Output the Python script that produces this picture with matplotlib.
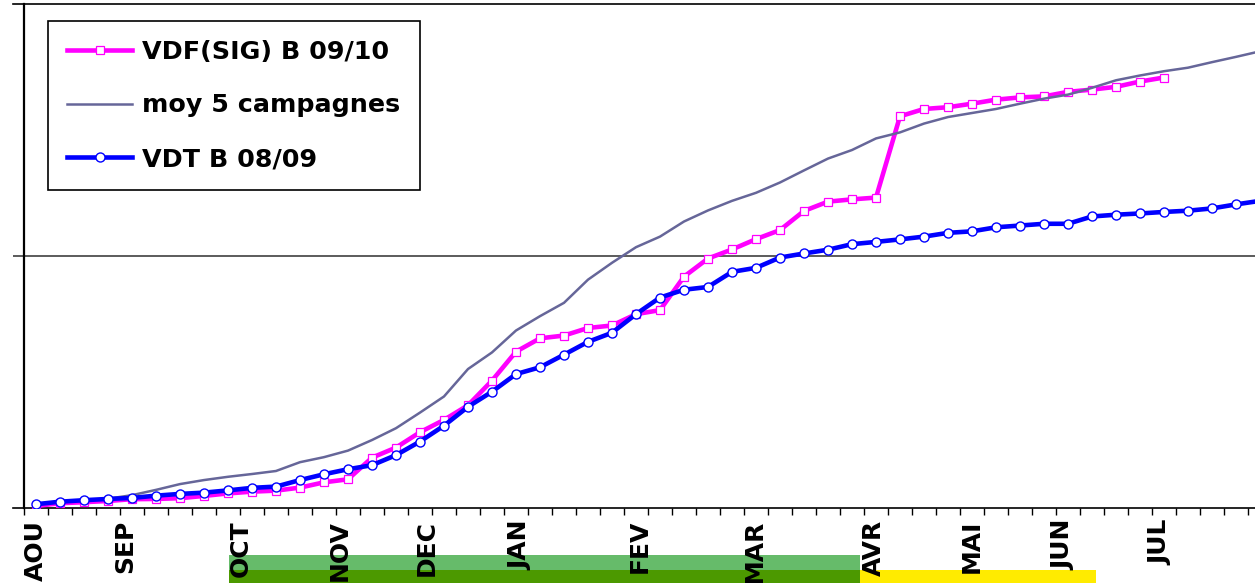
import matplotlib
matplotlib.use("Agg")
import matplotlib.pyplot as plt
from matplotlib.patches import Rectangle
from matplotlib.transforms import blended_transform_factory
import numpy as np

plt.rcParams['font.family'] = ['DejaVu Sans']

# ---- data (weekly categories, Aug -> Jul) ----
vdf_label = "VDF(SIG) B 09/10"
moy_label = "moy 5 campagnes"
vdt_label = "VDT B 08/09"

vdf = [0.6, 1.7, 2.1, 2.6, 3.3, 3.4, 3.7, 4.6, 5.6, 6.3,
       6.7, 7.9, 10.0, 11.2, 19.8, 23.8, 29.9, 34.8, 40.6, 50.4,
       61.9, 67.2, 68.3, 71.3, 72.3, 76.8, 78.4, 91.7, 98.9, 102.5,
       106.6, 110.2, 117.8, 121.5, 122.4, 123.1, 155.4, 158.3, 159.0, 160.4,
       162.0, 162.9, 163.3, 165.1, 166.0, 167.1, 169.2, 170.8]

moy = [1.3, 2.3, 3.0, 3.5, 4.9, 7.0, 9.3, 10.9, 12.2, 13.3,
       14.5, 18.0, 20.0, 22.6, 26.8, 31.5, 37.7, 44.1, 55.0, 61.6,
       70.3, 76.0, 81.3, 90.5, 97.2, 103.4, 107.6, 113.6, 118.0, 121.8,
       125.0, 129.1, 133.9, 138.6, 142.0, 146.6, 149.0, 152.5, 155.1, 156.7,
       158.3, 160.4, 162.4, 164.0, 166.7, 169.7, 171.6, 173.3, 174.7, 176.9,
       179.0, 181.2]

vdt = [1.3, 2.3, 2.9, 3.4, 3.8, 4.7, 5.4, 5.9, 6.8, 7.8,
       8.3, 10.9, 13.2, 15.2, 16.8, 20.8, 26.2, 32.5, 40.0, 46.0,
       53.0, 55.7, 60.7, 65.8, 69.4, 76.8, 83.4, 86.5, 87.6, 93.6,
       95.2, 99.3, 100.9, 102.4, 104.6, 105.5, 106.5, 107.6, 109.1, 109.7,
       111.3, 112.0, 112.7, 112.7, 115.6, 116.3, 116.8, 117.4, 117.9, 118.8,
       120.4, 121.8]

months = ["AOU", "SEP", "OCT", "NOV", "DEC", "JAN", "FEV", "MAR", "AVR", "MAI", "JUN", "JUL"]
month_pos = [0.0, 3.7, 8.55, 12.65, 16.3, 20.2, 25.15, 29.95, 34.9, 39.0, 42.8, 46.85]

# coloured period bands below the axis (start, end in week units)
band_light_green = (8.04, 34.33)
band_dark_green = (8.04, 34.33)
band_yellow = (34.33, 44.17)

n_weeks = 52

# ---- figure ----
W, H = 1255, 583
fig = plt.figure(figsize=(W / 100, H / 100), dpi=100)
ax = fig.add_axes([13 / W, (H - 507.5) / H, (1272 - 13) / W, 503.5 / H])

x_vdf = np.arange(len(vdf))
x_moy = np.arange(len(moy))
x_vdt = np.arange(len(vdt))

ax.plot(x_vdf, vdf, color='#FF00FF', lw=3.3, marker='s', ms=6,
        mfc='white', mec='#FF00FF', mew=0.9, label=vdf_label, zorder=3)
ax.plot(x_moy, moy, color='#666699', lw=1.8, label=moy_label, zorder=4)
ax.plot(x_vdt, vdt, color='#0000FF', lw=3.3, marker='o', ms=6.5,
        mfc='white', mec='#0000FF', mew=1.0, label=vdt_label, zorder=5)

ax.set_xlim(-0.958, n_weeks - 0.5)
ax.set_ylim(0, 200)

# horizontal gridline and left axis line
ax.axhline(100, color='#404040', lw=1.2, zorder=1)
ax.axvline(-0.5, color='black', lw=1.6, zorder=6, clip_on=False)

for s in ['left', 'right']:
    ax.spines[s].set_visible(False)
ax.spines['top'].set_linewidth(1.2)
ax.spines['bottom'].set_linewidth(1.2)

ax.set_yticks([])
ax.set_xticks(month_pos)
ax.set_xticklabels(months, rotation=90, fontsize=18, fontweight='bold')
ax.set_xticks(np.arange(-0.5, n_weeks, 1.0), minor=True)
ax.tick_params(axis='x', which='major', length=0, pad=9)
ax.tick_params(axis='x', which='minor', length=5, width=1.0, direction='out')

# bands
tr = blended_transform_factory(ax.transData, fig.transFigure)
ax.add_patch(Rectangle((band_light_green[0], 13 / H), band_light_green[1] - band_light_green[0], 15 / H,
                       transform=tr, facecolor='#66BB6A', edgecolor='none', clip_on=False, zorder=0.2))
ax.add_patch(Rectangle((band_dark_green[0], 0), band_dark_green[1] - band_dark_green[0], 13 / H,
                       transform=tr, facecolor='#4C9900', edgecolor='none', clip_on=False, zorder=0.2))
ax.add_patch(Rectangle((band_yellow[0], 0), band_yellow[1] - band_yellow[0], 13 / H,
                       transform=tr, facecolor='#FFEB00', edgecolor='none', clip_on=False, zorder=0.2))

leg = ax.legend(loc='upper left', bbox_to_anchor=(48.3 / W, 1 - 20.7 / H),
                bbox_transform=fig.transFigure, borderaxespad=0, borderpad=0.75,
                handlelength=2.55, handletextpad=0.4, labelspacing=1.17,
                numpoints=1, fancybox=False, framealpha=1,
                prop={'size': 18.3, 'weight': 'bold'})
leg.get_frame().set_edgecolor('black')
leg.get_frame().set_linewidth(1.2)
leg.set_zorder(10)

fig.savefig('out.png', dpi=100)
